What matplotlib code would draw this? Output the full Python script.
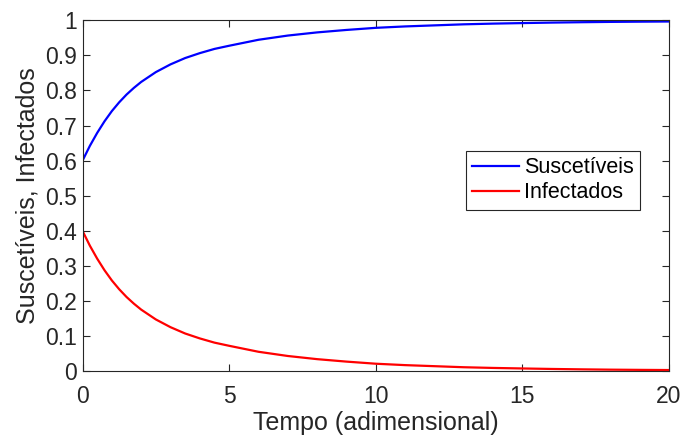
import matplotlib
matplotlib.use('Agg')
import matplotlib.pyplot as plt
from matplotlib.ticker import FixedLocator, FixedFormatter

plt.rcParams['font.family'] = ['Liberation Sans', 'DejaVu Sans']

# valores
tempo = [0, 0.25, 0.5, 0.75, 1, 1.25, 1.5, 1.75, 2, 2.5, 3, 3.5, 4, 4.5, 5,
         6, 7, 8, 9, 10, 11, 12, 13, 14, 15, 16, 17, 18, 19, 20]
infectados = [0.400, 0.358, 0.321, 0.288, 0.259, 0.234, 0.212, 0.193, 0.176,
              0.148, 0.126, 0.108, 0.094, 0.082, 0.073, 0.056, 0.044, 0.035,
              0.028, 0.022, 0.018, 0.015, 0.012, 0.010, 0.0085, 0.0071,
              0.0060, 0.0051, 0.0045, 0.0040]
suscetiveis = [0.600, 0.642, 0.679, 0.712, 0.741, 0.766, 0.788, 0.807, 0.824,
               0.852, 0.874, 0.892, 0.906, 0.918, 0.927, 0.944, 0.956, 0.965,
               0.972, 0.978, 0.982, 0.985, 0.988, 0.990, 0.9915, 0.9929,
               0.9940, 0.9949, 0.9955, 0.9960]
xticks = [0, 5, 10, 15, 20]
yticks = [0, 0.1, 0.2, 0.3, 0.4, 0.5, 0.6, 0.7, 0.8, 0.9, 1]
ylabels = ['0', '0.1', '0.2', '0.3', '0.4', '0.5', '0.6', '0.7', '0.8', '0.9', '1']

fig = plt.figure(figsize=(6.82, 4.37), dpi=100)
ax = fig.add_axes([0.121, 0.150, 0.860, 0.804])

ax.plot(tempo, suscetiveis, color='#0000ff', lw=1.6, label='Suscetíveis')
ax.plot(tempo, infectados, color='#ff0000', lw=1.6, label='Infectados')

ax.set_xlim(0, 20)
ax.set_ylim(0, 1)
ax.xaxis.set_major_locator(FixedLocator(xticks))
ax.yaxis.set_major_locator(FixedLocator(yticks))
ax.yaxis.set_major_formatter(FixedFormatter(ylabels))

gray = '#262626'
for s in ax.spines.values():
    s.set_color(gray)
    s.set_linewidth(0.8)
ax.tick_params(direction='in', length=5, width=0.8, color=gray,
               labelcolor=gray, labelsize=16.5, top=True, right=True, pad=4)
ax.tick_params(axis='x', pad=9.5)

ax.set_xlabel('Tempo (adimensional)', fontsize=18, color=gray, labelpad=2.5)
ax.set_ylabel('Suscetíveis, Infectados', fontsize=18, color=gray, labelpad=4)

leg = ax.legend(loc='upper left', bbox_to_anchor=(0.654, 0.627),
                borderaxespad=0, fancybox=False, edgecolor=gray,
                fontsize=15.5, handlelength=2.2, handletextpad=0.2,
                labelspacing=0.2, borderpad=0.28, framealpha=1)
leg.get_frame().set_linewidth(0.8)

fig.savefig('out.png', dpi=100)
